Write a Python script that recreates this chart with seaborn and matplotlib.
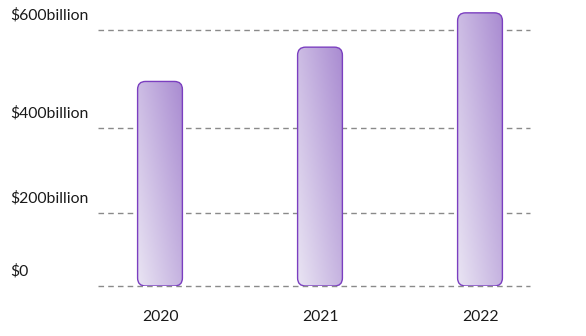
import numpy as np
import pandas as pd
import matplotlib
matplotlib.use("Agg")
import matplotlib.pyplot as plt
import seaborn as sns
from matplotlib.patches import FancyBboxPatch
from matplotlib.transforms import IdentityTransform, Bbox
from matplotlib.image import BboxImage
from matplotlib.colors import LinearSegmentedColormap

years = ["2020", "2021", "2022"]
values = [495, 565, 635]  # billions of dollars
tick_values = [0, 200, 400, 600]
tick_labels = ["$0", "$200billion", "$400billion", "$600billion"]

sns.set_theme(style="white")
plt.rcParams["font.family"] = ["Lato", "DejaVu Sans"]

# piecewise scale as drawn in the reference (gridlines unevenly spaced)
xp = np.array([-1000.0, 0.0, 200.0, 400.0, 600.0, 3000.0])
fp = np.array([-365.0, 0.0, 73.0, 158.0, 256.0, 256.0 + 0.49 * 2400])


def fwd(v):
    return np.interp(v, xp, fp)


def inv(v):
    return np.interp(v, fp, xp)


W, H = 586, 336
fig = plt.figure(figsize=(W / 100, H / 100), dpi=100)
ymax = 650
top_px = 286 - fwd(ymax)
ax = fig.add_axes([98 / W, (H - 286) / H, (530 - 98) / W, (286 - top_px) / H])
ax.set_yscale("function", functions=(fwd, inv))

df = pd.DataFrame({"year": years, "value": values})
sns.barplot(data=df, x="year", y="value", ax=ax, width=0.28, color="#c8b8e2")

ax.set_xlim(-62 / 160, 2 + 50 / 160)
ax.set_ylim(0, ymax)
ax.set_yticks(tick_values)
ax.set_yticklabels([])
ax.tick_params(axis="y", length=0)
ax.tick_params(axis="x", length=0, pad=17, labelsize=11.3, labelcolor="#1a1a1a")
ax.set_xlabel("")
ax.set_ylabel("")
for s in ax.spines.values():
    s.set_visible(False)
ax.yaxis.grid(True, linestyle=(0, (4, 3)), color="#8a8a8a", linewidth=1)
ax.set_axisbelow(True)
for gl in ax.get_ygridlines():
    gl.set_clip_on(False)

for v, lab in zip(tick_values, tick_labels):
    ax.annotate(lab, xy=(10, v), xycoords=("figure pixels", "data"),
                xytext=(0, 15), textcoords="offset pixels",
                ha="left", va="center", fontsize=11.3, color="#1a1a1a",
                annotation_clip=False)

cmap = LinearSegmentedColormap.from_list("g", ["#e9e4f3", "#a98bd1"])
u = np.linspace(0, 1, 60)
vv = np.linspace(0, 1, 200)
U, V = np.meshgrid(u, vv)

for p in list(ax.patches):
    x0, y0 = p.get_x(), p.get_y()
    x1, y1 = x0 + p.get_width(), y0 + p.get_height()
    (px0, py0), (px1, py1) = ax.transData.transform([(x0, y0), (x1, y1)])
    p.set_visible(False)
    box = FancyBboxPatch((px0, py0), px1 - px0, py1 - py0,
                         boxstyle="round,pad=0,rounding_size=8",
                         transform=IdentityTransform(),
                         facecolor="none", edgecolor="#7b3fc0", linewidth=1.0,
                         zorder=4)
    ax.add_patch(box)
    grad = 0.55 * U + 0.45 * V
    img = BboxImage(Bbox.from_extents(px0, py0, px1, py1), cmap=cmap,
                    norm=plt.Normalize(0, 1), interpolation="bilinear",
                    origin="lower", zorder=3)
    img.set_data(grad)
    img.set_clip_path(box)
    ax.add_artist(img)

fig.savefig("out.png", dpi=100)
